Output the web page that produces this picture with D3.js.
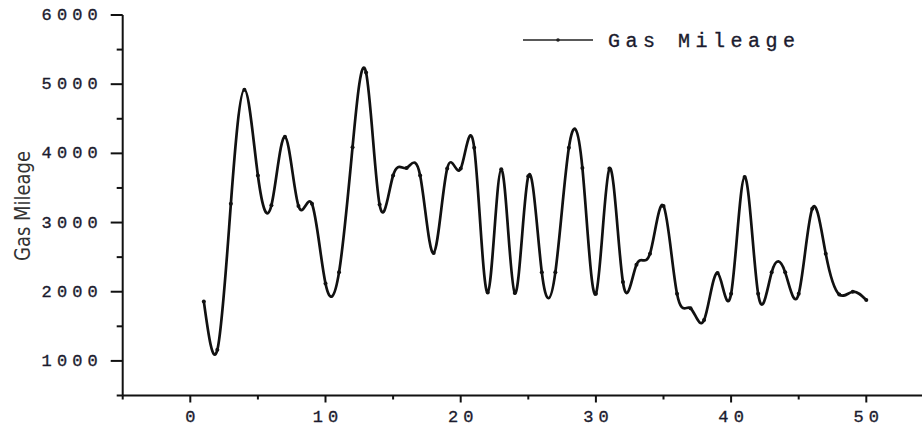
<!DOCTYPE html>
<html>
<head>
<meta charset="utf-8">
<script src="https://cdn.jsdelivr.net/npm/d3@7"></script>
<style>
  body { margin: 0; background: #fff; }
  svg { display: block; }
</style>
</head>
<body>
<svg id="canvas" width="922" height="427"></svg>
<script>
// data
const runs = [1, 2, 3, 4, 5, 6, 7, 8, 9, 10,
    11, 12, 13, 14, 15, 16, 17, 18, 19, 20,
    21, 22, 23, 24, 25, 26, 27, 28, 29, 30,
    31, 32, 33, 34, 35, 36, 37, 38, 39, 40,
    41, 42, 43, 44, 45, 46, 47, 48, 49, 50];
const mileage = [1860, 1160, 3270, 4920, 3680, 3250, 4240, 3240, 3270, 2120,
    2280, 4090, 5170, 3260, 3680, 3790, 3680, 2560, 3780, 3780,
    4080, 1990, 3770, 1980, 3670, 2280, 2280, 4080, 3790, 1970,
    3780, 2140, 2390, 2550, 3240, 1970, 1760, 1590, 2270, 1970,
    3660, 1970, 2280, 2280, 1970, 3200, 2550, 1960, 2000, 1880];
const xTicks = [0, 10, 20, 30, 40, 50];
const xMinor = [-5, 5, 15, 25, 35, 45, 55];
const yTicks = [1000, 2000, 3000, 4000, 5000, 6000];
const yMinor = [500, 1500, 2500, 3500, 4500, 5500];
const seriesName = "Gas Mileage";
const yTitle = "Gas Mileage";

const svg = d3.select("#canvas");
const ink = "#111";
const labelFont = "'Liberation Mono', 'DejaVu Sans Mono', monospace";

const x = d3.scaleLinear().domain([-5, 55]).range([122.7, 933.9]);
const y = d3.scaleLinear().domain([500, 6000]).range([395.5, 15]);

drawAxes();
drawSeries();
drawLegend();

function spacedText(g, str, size) {
    // monospace digits with the wide spacing of the original
    const adv = size * 0.6;
    const gap = size * 0.3;
    g.attr("textLength", str.length * adv + (str.length - 1) * gap)
        .attr("lengthAdjust", "spacing");
}

function drawAxes() {
    const gx = svg.append("g")
        .attr("transform", `translate(0,${y.range()[0]})`);

    gx.append("line")
        .attr("x1", x(-5))
        .attr("x2", 922)
        .attr("stroke", ink)
        .attr("stroke-width", 2);

    gx.selectAll(".major")
        .data(xTicks)
        .join("line")
        .attr("x1", d => x(d))
        .attr("x2", d => x(d))
        .attr("y1", 0)
        .attr("y2", 7)
        .attr("stroke", ink)
        .attr("stroke-width", 2);

    gx.selectAll(".minor")
        .data(xMinor)
        .join("line")
        .attr("x1", d => x(d))
        .attr("x2", d => x(d))
        .attr("y1", 0)
        .attr("y2", 4)
        .attr("stroke", ink)
        .attr("stroke-width", 2);

    gx.selectAll("text")
        .data(xTicks)
        .join("text")
        .attr("x", d => x(d))
        .attr("y", 26)
        .attr("text-anchor", "middle")
        .attr("font-family", labelFont)
        .attr("font-size", 17)
        .attr("stroke", "#1b1b2e")
        .attr("stroke-width", 0.35)
        .attr("fill", "#1b1b2e")
        .text(d => d)
        .each(function(d) { spacedText(d3.select(this), String(d), 17); });

    const gy = svg.append("g")
        .attr("transform", `translate(${x(-5)},0)`);

    gy.append("line")
        .attr("y1", y(6000))
        .attr("y2", y(500))
        .attr("stroke", ink)
        .attr("stroke-width", 2);

    gy.selectAll(".major")
        .data(yTicks)
        .join("line")
        .attr("x1", 0)
        .attr("x2", -12)
        .attr("y1", d => y(d))
        .attr("y2", d => y(d))
        .attr("stroke", ink)
        .attr("stroke-width", 2);

    gy.selectAll(".minor")
        .data(yMinor)
        .join("line")
        .attr("x1", 0)
        .attr("x2", -6)
        .attr("y1", d => y(d))
        .attr("y2", d => y(d))
        .attr("stroke", ink)
        .attr("stroke-width", 2);

    gy.selectAll("text")
        .data(yTicks)
        .join("text")
        .attr("x", -25)
        .attr("y", d => y(d) + 5)
        .attr("text-anchor", "end")
        .attr("font-family", labelFont)
        .attr("font-size", 17)
        .attr("stroke", "#1b1b2e")
        .attr("stroke-width", 0.35)
        .attr("fill", "#1b1b2e")
        .text(d => d)
        .each(function(d) { spacedText(d3.select(this), String(d), 17); });

    svg.append("text")
        .attr("transform", `translate(30,206) rotate(-90)`)
        .attr("text-anchor", "middle")
        .attr("font-family", "'Liberation Sans Narrow', 'DejaVu Sans Condensed', sans-serif")
        .attr("font-stretch", "condensed")
        .attr("font-size", 22)
        .attr("fill", "#333")
        .attr("textLength", 110)
        .attr("lengthAdjust", "spacingAndGlyphs")
        .text(yTitle);
}

function drawSeries() {
    const pts = runs.map((r, i) => ({ x: r, y: mileage[i] }));

    const line = d3.line()
        .x(d => x(d.x))
        .y(d => y(d.y))
        .curve(d3.curveNatural);

    svg.append("path")
        .datum(pts)
        .attr("d", line)
        .attr("fill", "none")
        .attr("stroke", ink)
        .attr("stroke-width", 2.7)
        .attr("stroke-linejoin", "round");

    svg.append("g")
        .selectAll("circle")
        .data(pts)
        .join("circle")
        .attr("cx", d => x(d.x))
        .attr("cy", d => y(d.y))
        .attr("r", 2)
        .attr("fill", ink);
}

function drawLegend() {
    const g = svg.append("g");

    g.append("line")
        .attr("x1", 523)
        .attr("x2", 593)
        .attr("y1", 40)
        .attr("y2", 40)
        .attr("stroke", "#222")
        .attr("stroke-width", 1.6);

    g.append("circle")
        .attr("cx", 558)
        .attr("cy", 40)
        .attr("r", 1.8)
        .attr("fill", "#222");

    g.append("text")
        .attr("x", 608)
        .attr("y", 47)
        .attr("font-family", labelFont)
        .attr("font-size", 20)
        .attr("stroke", "#1b1b2e")
        .attr("stroke-width", 0.35)
        .attr("fill", "#1b1b2e")
        .attr("textLength", 187)
        .attr("lengthAdjust", "spacing")
        .text(seriesName);
}
</script>
</body>
</html>
